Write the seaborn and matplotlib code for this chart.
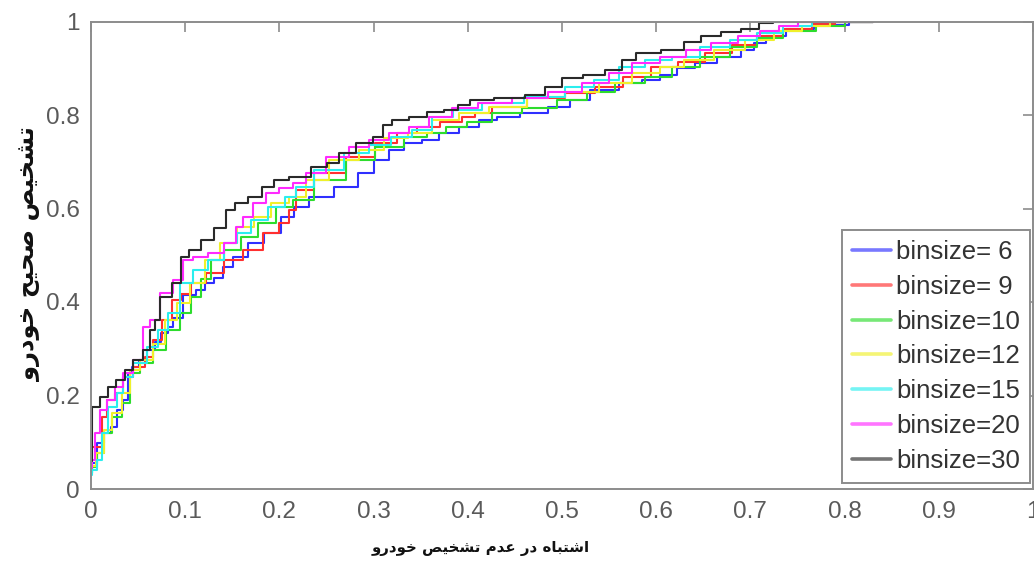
import numpy as np
import pandas as pd
import matplotlib
matplotlib.use("Agg")
import matplotlib.pyplot as plt
import matplotlib.colors as mcolors
import seaborn as sns

# ---------------- data ----------------
series_labels = ["binsize= 6", "binsize= 9", "binsize=10", "binsize=12",
                 "binsize=15", "binsize=20", "binsize=30"]
series_colors = ["#2f2fff", "#ff2f2f", "#2ddc2d", "#f0f02a",
                 "#2aeeee", "#ff2aff", "#2a2a2a"]

x_bs6 = [0, 0.002, 0.01, 0.018, 0.025, 0.031, 0.038, 0.04, 0.047, 0.055,
         0.064, 0.071, 0.078, 0.086, 0.089, 0.107, 0.115, 0.126, 0.136, 0.144,
         0.158, 0.175, 0.193, 0.21, 0.221, 0.242, 0.274, 0.292, 0.309, 0.324,
         0.341, 0.362, 0.376, 0.405, 0.419, 0.443, 0.468, 0.503, 0.514, 0.546,
         0.574, 0.595, 0.613, 0.631, 0.651, 0.679, 0.7, 0.708, 0.726, 0.75,
         0.785, 0.824, 0.83]
y_bs6 = [0.034, 0.055, 0.098, 0.12, 0.133, 0.169, 0.19, 0.248, 0.261, 0.276,
         0.297, 0.315, 0.333, 0.347, 0.365, 0.415, 0.426, 0.44, 0.452, 0.475,
         0.497, 0.526, 0.547, 0.582, 0.603, 0.625, 0.646, 0.675, 0.704, 0.725,
         0.74, 0.746, 0.761, 0.775, 0.789, 0.796, 0.804, 0.818, 0.832, 0.853,
         0.868, 0.875, 0.886, 0.9, 0.911, 0.925, 0.939, 0.953, 0.968, 0.985,
         0.992, 1.0, 1.0]

x_bs9 = [0, 0.002, 0.01, 0.013, 0.02, 0.031, 0.038, 0.052, 0.062, 0.07,
         0.08, 0.091, 0.101, 0.112, 0.133, 0.15, 0.172, 0.193, 0.207, 0.214,
         0.221, 0.253, 0.288, 0.316, 0.334, 0.359, 0.383, 0.404, 0.412, 0.44,
         0.486, 0.521, 0.549, 0.581, 0.609, 0.637, 0.666, 0.694, 0.72, 0.75,
         0.78, 0.8, 0.83]
y_bs9 = [0.07, 0.09, 0.09, 0.154, 0.19, 0.205, 0.24, 0.261, 0.282, 0.318,
         0.361, 0.404, 0.418, 0.44, 0.462, 0.49, 0.511, 0.547, 0.568, 0.597,
         0.64, 0.675, 0.71, 0.74, 0.761, 0.775, 0.785, 0.796, 0.804, 0.818,
         0.836, 0.846, 0.86, 0.882, 0.903, 0.913, 0.932, 0.95, 0.97, 0.985,
         0.995, 1.0, 1.0]

x_bs10 = [0, 0.002, 0.01, 0.017, 0.027, 0.038, 0.045, 0.059, 0.073, 0.087,
          0.101, 0.112, 0.122, 0.133, 0.15, 0.168, 0.186, 0.207, 0.221, 0.253,
          0.288, 0.316, 0.348, 0.366, 0.387, 0.412, 0.44, 0.475, 0.514, 0.539,
          0.574, 0.602, 0.631, 0.662, 0.694, 0.72, 0.75, 0.79, 0.81, 0.83]
y_bs10 = [0.035, 0.047, 0.077, 0.12, 0.154, 0.183, 0.248, 0.269, 0.297, 0.34,
          0.376, 0.411, 0.45, 0.49, 0.511, 0.539, 0.568, 0.603, 0.618, 0.661,
          0.704, 0.732, 0.753, 0.761, 0.775, 0.785, 0.804, 0.814, 0.832, 0.85,
          0.868, 0.882, 0.903, 0.925, 0.946, 0.965, 0.98, 0.99, 1.0, 1.0]

x_bs12 = [0, 0.01, 0.017, 0.027, 0.038, 0.045, 0.059, 0.073, 0.084, 0.098,
          0.112, 0.129, 0.144, 0.165, 0.182, 0.2, 0.221, 0.235, 0.271, 0.298,
          0.324, 0.348, 0.377, 0.404, 0.44, 0.486, 0.521, 0.557, 0.592, 0.616,
          0.644, 0.679, 0.71, 0.74, 0.77, 0.8, 0.83]
y_bs12 = [0.05, 0.077, 0.126, 0.162, 0.205, 0.254, 0.276, 0.311, 0.361, 0.397,
          0.44, 0.49, 0.526, 0.56, 0.582, 0.612, 0.625, 0.661, 0.704, 0.725,
          0.75, 0.761, 0.789, 0.804, 0.818, 0.839, 0.849, 0.868, 0.889, 0.903,
          0.918, 0.939, 0.96, 0.98, 0.99, 1.0, 1.0]

x_bs15 = [0, 0.002, 0.01, 0.013, 0.024, 0.031, 0.038, 0.052, 0.066, 0.077,
          0.087, 0.101, 0.115, 0.133, 0.15, 0.161, 0.179, 0.197, 0.214, 0.221,
          0.253, 0.285, 0.306, 0.33, 0.351, 0.372, 0.397, 0.433, 0.486, 0.521,
          0.546, 0.574, 0.602, 0.631, 0.662, 0.694, 0.72, 0.75, 0.78, 0.83]
y_bs15 = [0.03, 0.04, 0.062, 0.12, 0.175, 0.205, 0.24, 0.269, 0.304, 0.34,
          0.376, 0.44, 0.468, 0.49, 0.526, 0.547, 0.575, 0.603, 0.625, 0.646,
          0.682, 0.718, 0.736, 0.753, 0.768, 0.796, 0.811, 0.825, 0.839, 0.86,
          0.875, 0.903, 0.918, 0.925, 0.946, 0.96, 0.975, 0.99, 1.0, 1.0]

x_bs20 = [0, 0.002, 0.006, 0.013, 0.02, 0.031, 0.038, 0.052, 0.059, 0.066,
          0.08, 0.094, 0.101, 0.115, 0.133, 0.15, 0.158, 0.165, 0.179, 0.193,
          0.207, 0.221, 0.235, 0.263, 0.285, 0.306, 0.327, 0.348, 0.369, 0.397,
          0.425, 0.468, 0.503, 0.539, 0.56, 0.588, 0.62, 0.644, 0.673, 0.7,
          0.72, 0.74, 0.76, 0.83]
y_bs20 = [0.045, 0.062, 0.12, 0.169, 0.19, 0.218, 0.248, 0.276, 0.347, 0.361,
          0.419, 0.447, 0.49, 0.497, 0.504, 0.526, 0.56, 0.582, 0.612, 0.633,
          0.643, 0.654, 0.675, 0.71, 0.732, 0.746, 0.761, 0.775, 0.796, 0.814,
          0.825, 0.836, 0.85, 0.868, 0.889, 0.911, 0.925, 0.939, 0.953, 0.968,
          0.98, 0.99, 1.0, 1.0]

x_bs30 = [0, 0.003, 0.017, 0.02, 0.034, 0.038, 0.052, 0.059, 0.066, 0.07,
          0.077, 0.094, 0.097, 0.112, 0.122, 0.14, 0.147, 0.158, 0.175, 0.189,
          0.2, 0.221, 0.246, 0.256, 0.271, 0.292, 0.306, 0.313, 0.327, 0.348,
          0.366, 0.383, 0.397, 0.408, 0.447, 0.475, 0.489, 0.51, 0.535, 0.557,
          0.57, 0.588, 0.623, 0.637, 0.658, 0.679, 0.7, 0.718, 0.73, 0.83]
y_bs30 = [0.06, 0.175, 0.197, 0.218, 0.233, 0.254, 0.276, 0.297, 0.34, 0.361,
          0.411, 0.44, 0.497, 0.511, 0.533, 0.558, 0.597, 0.612, 0.625, 0.646,
          0.661, 0.668, 0.689, 0.697, 0.718, 0.74, 0.753, 0.779, 0.789, 0.796,
          0.807, 0.811, 0.821, 0.832, 0.837, 0.843, 0.86, 0.879, 0.886, 0.896,
          0.918, 0.933, 0.939, 0.957, 0.968, 0.978, 0.985, 0.997, 1.0, 1.0]

x_ticks = [0, 0.1, 0.2, 0.3, 0.4, 0.5, 0.6, 0.7, 0.8, 0.9, 1.0]
x_tick_labels = ["0", "0.1", "0.2", "0.3", "0.4", "0.5", "0.6", "0.7", "0.8", "0.9", "1"]
y_ticks = [0, 0.2, 0.4, 0.6, 0.8, 1.0]
y_tick_labels = ["0", "0.2", "0.4", "0.6", "0.8", "1"]

x_label_text = "اشتباه در عدم تشخیص خودرو"
y_label_text = "تشخیص صحیح خودرو"

# ---------------- minimal Persian shaping for matplotlib ----------------
FORMS = {
    "\u0627": ("\uFE8D", "\uFE8E", None, None),      # alef
    "\u0628": ("\uFE8F", "\uFE90", "\uFE91", "\uFE92"),  # beh
    "\u062A": ("\uFE95", "\uFE96", "\uFE97", "\uFE98"),  # teh
    "\u062D": ("\uFEA1", "\uFEA2", "\uFEA3", "\uFEA4"),  # hah
    "\u062E": ("\uFEA5", "\uFEA6", "\uFEA7", "\uFEA8"),  # khah
    "\u062F": ("\uFEA9", "\uFEAA", None, None),      # dal
    "\u0631": ("\uFEAD", "\uFEAE", None, None),      # reh
    "\u0634": ("\uFEB5", "\uFEB6", "\uFEB7", "\uFEB8"),  # sheen
    "\u0635": ("\uFEB9", "\uFEBA", "\uFEBB", "\uFEBC"),  # sad
    "\u0639": ("\uFEC9", "\uFECA", "\uFECB", "\uFECC"),  # ain
    "\u0645": ("\uFEE1", "\uFEE2", "\uFEE3", "\uFEE4"),  # meem
    "\u0647": ("\uFEE9", "\uFEEA", "\uFEEB", "\uFEEC"),  # heh
    "\u0648": ("\uFEED", "\uFEEE", None, None),      # waw
    "\u06CC": ("\uFBFC", "\uFBFD", "\uFBFE", "\uFBFF"),  # farsi yeh
}


def shape(text):
    out = []
    for i, ch in enumerate(text):
        f = FORMS.get(ch)
        if f is None:
            out.append(ch)
            continue
        prev = text[i - 1] if i > 0 else ""
        nxt = text[i + 1] if i + 1 < len(text) else ""
        jp = prev in FORMS and FORMS[prev][2] is not None
        jn = f[2] is not None and nxt in FORMS
        if jp and jn:
            out.append(f[3])
        elif jp:
            out.append(f[1])
        elif jn:
            out.append(f[2])
        else:
            out.append(f[0])
    return "".join(reversed(out))


# ---------------- build table ----------------
xs = [x_bs6, x_bs9, x_bs10, x_bs12, x_bs15, x_bs20, x_bs30]
ys = [y_bs6, y_bs9, y_bs10, y_bs12, y_bs15, y_bs20, y_bs30]
frames = []
for lab, xv, yv in zip(series_labels, xs, ys):
    assert len(xv) == len(yv), lab
    frames.append(pd.DataFrame({"fpr": xv, "tpr": yv, "series": lab}))
df = pd.concat(frames, ignore_index=True)

# ---------------- plot ----------------
sns.set_style("white")
plt.rcParams["font.family"] = ["Liberation Sans", "DejaVu Sans"]

W, H = 1034, 567
fig = plt.figure(figsize=(W / 100, H / 100), dpi=100)
ax = fig.add_axes([91 / W, 78 / H, 942 / W, 467.5 / H])

sns.lineplot(data=df, x="fpr", y="tpr", hue="series", hue_order=series_labels,
             palette=series_colors, estimator=None, sort=False,
             drawstyle="steps-mid", linewidth=1.5, ax=ax, legend=True)

ax.set_xlim(0, 1)
ax.set_ylim(0, 1)
ax.set_xticks(x_ticks)
ax.set_xticklabels(x_tick_labels)
ax.set_yticks(y_ticks)
ax.set_yticklabels(y_tick_labels)
ax.set_xlabel("")
ax.set_ylabel("")

spine_c = "#8c8c8c"
for s in ax.spines.values():
    s.set_visible(True)
    s.set_color(spine_c)
    s.set_linewidth(1.4)
ax.tick_params(axis="both", which="both", direction="in", length=7, width=1.2,
               color=spine_c, labelcolor="#5a5a5a", labelsize=17.5,
               top=True, right=True)
ax.tick_params(axis="x", pad=9)
ax.tick_params(axis="y", pad=8)

# legend
old = ax.get_legend()
handles = list(old.legend_handles)
labels = [t.get_text() for t in old.texts]
old.remove()
leg = ax.legend(handles, labels, loc="lower right",
                bbox_to_anchor=(1030 / W, 84 / H), bbox_transform=fig.transFigure,
                borderaxespad=0, frameon=True, fancybox=False,
                edgecolor=spine_c, facecolor="white", framealpha=1,
                fontsize=18.5, handlelength=1.5, handletextpad=0.2,
                labelspacing=0.42, borderpad=0.4)
leg.get_frame().set_linewidth(1.4)
for h, c in zip(leg.legend_handles, series_colors):
    rgb = np.array(mcolors.to_rgb(c))
    h.set_color(tuple(rgb * 0.65 + 0.35))
    h.set_linewidth(2.6)
for t in leg.get_texts():
    t.set_color("#333333")

# axis labels (Persian)
fig.text(481 / W, 1 - 549 / H, shape(x_label_text), family="DejaVu Sans",
         fontweight="bold", fontsize=10.8, ha="center", va="center", color="#111111")
fig.text(29 / W, 1 - 254 / H, shape(y_label_text), family="DejaVu Sans",
         fontweight="bold", fontsize=17.5, ha="center", va="center",
         rotation=90, color="#111111")

fig.savefig("out.png", dpi=100, facecolor="white")
